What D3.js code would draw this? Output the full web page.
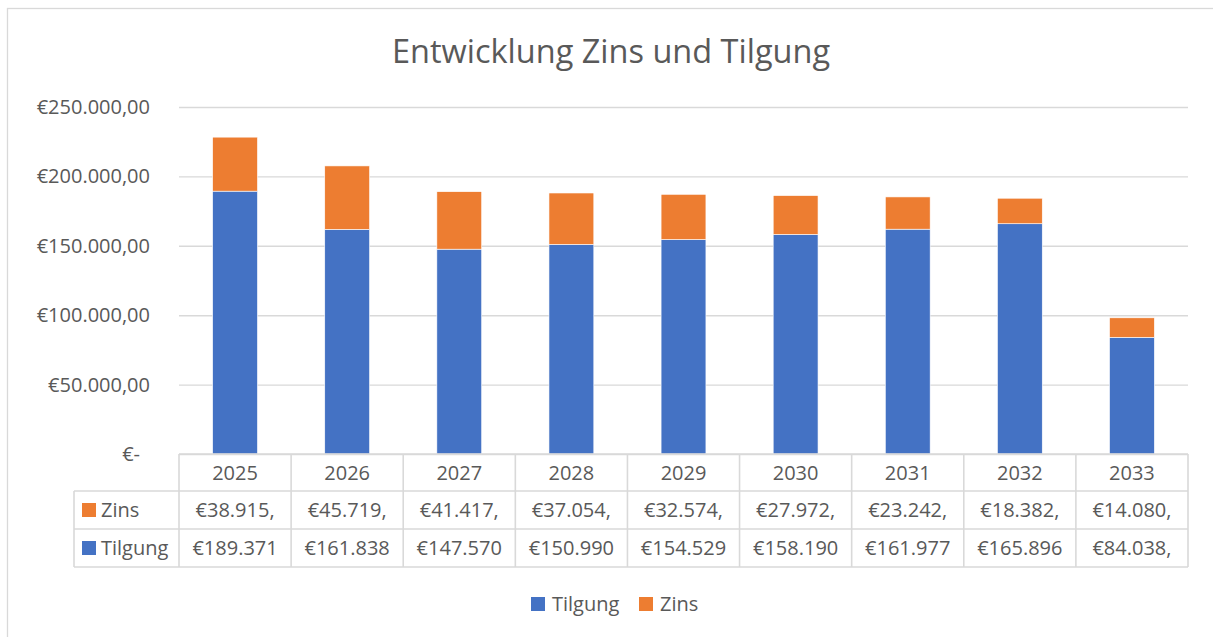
<!DOCTYPE html>
<html><head><meta charset="utf-8">
<script src="https://cdn.jsdelivr.net/npm/d3@7"></script>
<style>
html,body{margin:0;padding:0;background:#fff;}
svg text{font-family:"Open Sans","Noto Sans",sans-serif;fill:#595959;}
</style></head>
<body><svg id="c" width="1213" height="637"></svg>
<script>
const years = ["2025","2026","2027","2028","2029","2030","2031","2032","2033"];
const tilgung = [189371, 161838, 147570, 150990, 154529, 158190, 161977, 165896, 84038];
const zins = [38915, 45719, 41417, 37054, 32574, 27972, 23242, 18382, 14080];
const seriesNames = ["Tilgung","Zins"];
const seriesColors = ["#4472C4","#ED7D31"];
const yTicks = [0, 50000, 100000, 150000, 200000, 250000];
const chartTitle = "Entwicklung Zins und Tilgung";

(function(){
const svg = d3.select("#c");
const plotL = 179, plotR = 1188, plotT = 107, zeroY = 454;
const grid = "#d9d9d9";
const fs = "20px";

svg.append("rect").attr("x",7.5).attr("y",8.5).attr("width",1300).attr("height",700)
  .attr("fill","none").attr("stroke",grid).attr("stroke-width",1.3);

svg.append("text").attr("x",611).attr("y",63).attr("text-anchor","middle")
  .style("font-size","32.5px").text(chartTitle);

const x = d3.scaleBand().domain(years).range([plotL,plotR]).paddingInner(0.6).paddingOuter(0.3);
const step = (plotR-plotL)/years.length;
const y = d3.scaleLinear().domain([0,250000]).range([zeroY, plotT]);

const loc = d3.formatLocale({decimal:",", thousands:".", grouping:[3], currency:["€",""]});
const fmtCur = loc.format("$,.2f");
const fmtAxis = v => v === 0 ? "€-" : fmtCur(v);

const yAxis = d3.axisLeft(y).tickValues(yTicks).tickFormat(fmtAxis).tickSize(-(plotR-plotL)).tickPadding(29);
const ga = svg.append("g").attr("transform",`translate(${plotL},0)`).call(yAxis);
ga.select(".domain").remove();
ga.selectAll(".tick line").attr("stroke",grid).attr("stroke-width",1.4);
ga.selectAll(".tick text").style("font-size",fs).attr("fill","#595959")
  .attr("dx", d => d === 0 ? -10 : 0);

const rows = years.map((yr,i)=>({year:yr, Tilgung:tilgung[i], Zins:zins[i]}));
const stack = d3.stack().keys(seriesNames)(rows);
svg.append("g").selectAll("g").data(stack).join("g")
  .attr("fill",(d,i)=>seriesColors[i])
  .selectAll("rect").data(d=>d).join("rect")
  .attr("x",d=>x(d.data.year)).attr("width",x.bandwidth())
  .attr("y",d=>y(d[1])).attr("height",d=>y(d[0])-y(d[1]))
  .attr("stroke","#ffffff").attr("stroke-width",0.6);

const rowY = [454, 491, 529, 567];
const tableL = 74;
const tg = svg.append("g").attr("stroke",grid).attr("stroke-width",1.6).attr("fill","none");
tg.append("line").attr("x1",plotL).attr("x2",plotR).attr("y1",rowY[0]).attr("y2",rowY[0]);
for (let r=1;r<rowY.length;r++) tg.append("line").attr("x1",tableL).attr("x2",plotR).attr("y1",rowY[r]).attr("y2",rowY[r]);
tg.append("line").attr("x1",tableL).attr("x2",tableL).attr("y1",rowY[1]).attr("y2",rowY[3]);
years.forEach((yr,i)=>{
  const xx = plotL + i*step;
  tg.append("line").attr("x1",xx).attr("x2",xx).attr("y1",rowY[0]).attr("y2",rowY[3]);
});
tg.append("line").attr("x1",plotR).attr("x2",plotR).attr("y1",rowY[0]).attr("y2",rowY[3]);

svg.append("g").selectAll("text").data(years).join("text")
  .attr("x",d=>x(d)+x.bandwidth()/2).attr("y",(rowY[0]+rowY[1])/2).attr("dy","0.36em")
  .attr("text-anchor","middle").style("font-size",fs).text(d=>d);

const tableRows = [{name:"Zins", vals:zins, color:seriesColors[1]},{name:"Tilgung", vals:tilgung, color:seriesColors[0]}];
const maxW = 88;
tableRows.forEach((tr,ri)=>{
  const cy = (rowY[ri+1]+rowY[ri+2])/2;
  svg.append("rect").attr("x",82).attr("y",cy-7).attr("width",14).attr("height",14).attr("fill",tr.color);
  svg.append("text").attr("x",101).attr("y",cy).attr("dy","0.36em").style("font-size",fs).text(tr.name);
  tr.vals.forEach((v,i)=>{
    const t = svg.append("text").attr("x",x(years[i])+x.bandwidth()/2).attr("y",cy).attr("dy","0.36em")
      .attr("text-anchor","middle").style("font-size",fs);
    let s = fmtCur(v);
    t.text(s);
    while (t.node().getComputedTextLength() > maxW && s.length>1) { s = s.slice(0,-1); t.text(s); }
  });
});

const lg = svg.append("g");
const legendItems = [{name:seriesNames[0],color:seriesColors[0],x:531},{name:seriesNames[1],color:seriesColors[1],x:639}];
legendItems.forEach(it=>{
  lg.append("rect").attr("x",it.x).attr("y",597).attr("width",14).attr("height",14).attr("fill",it.color);
  lg.append("text").attr("x",it.x+21).attr("y",604).attr("dy","0.36em").style("font-size",fs).text(it.name);
});
})();
</script></body></html>
